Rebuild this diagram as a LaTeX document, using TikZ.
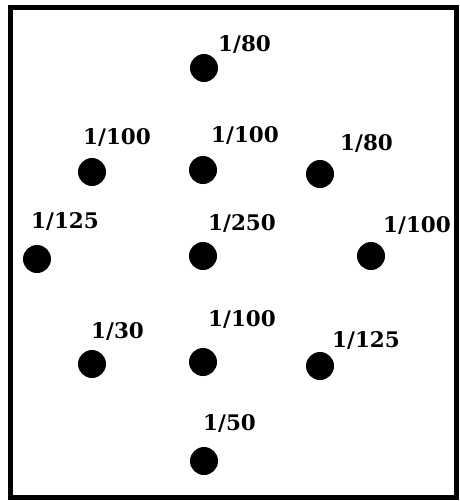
\documentclass[tikz,border=0pt]{standalone}
\usepackage{fontspec}
\newfontfamily\lblfont{DejaVu Serif}
\begin{document}
\begin{tikzpicture}[x=1pt,y=-1pt,
  dot/.style={circle,fill=black,inner sep=0pt,minimum size=28pt},
  lbl/.style={anchor=base west,inner sep=0pt,font=\lblfont\bfseries\fontsize{21.5}{21.5}\selectfont}]
\useasboundingbox (0,0) rectangle (460,501);
\draw[line width=5pt] (10,7.5) rectangle (456,497.5);
% dots
\node[dot] (d1) at (204,68) {};
\node[dot] (d2) at (92,172) {};
\node[dot] (d3) at (203,170) {};
\node[dot] (d4) at (320,174) {};
\node[dot] (d5) at (37,259) {};
\node[dot] (d6) at (203,256) {};
\node[dot] (d7) at (371,256) {};
\node[dot] (d8) at (92,364) {};
\node[dot] (d9) at (203,362) {};
\node[dot] (d10) at (320,366) {};
\node[dot] (d11) at (204,461) {};
% labels
\node[lbl] (l1) at (218,51) {1/80};
\node[lbl] (l2) at (83,144) {1/100};
\node[lbl] (l3) at (211,142) {1/100};
\node[lbl] (l4) at (340,150) {1/80};
\node[lbl] (l5) at (31,228) {1/125};
\node[lbl] (l6) at (208,230) {1/250};
\node[lbl] (l7) at (383,232) {1/100};
\node[lbl] (l8) at (91,338) {1/30};
\node[lbl] (l9) at (208,326) {1/100};
\node[lbl] (l10) at (332,347) {1/125};
\node[lbl] (l11) at (203,430) {1/50};
\end{tikzpicture}
\end{document}
